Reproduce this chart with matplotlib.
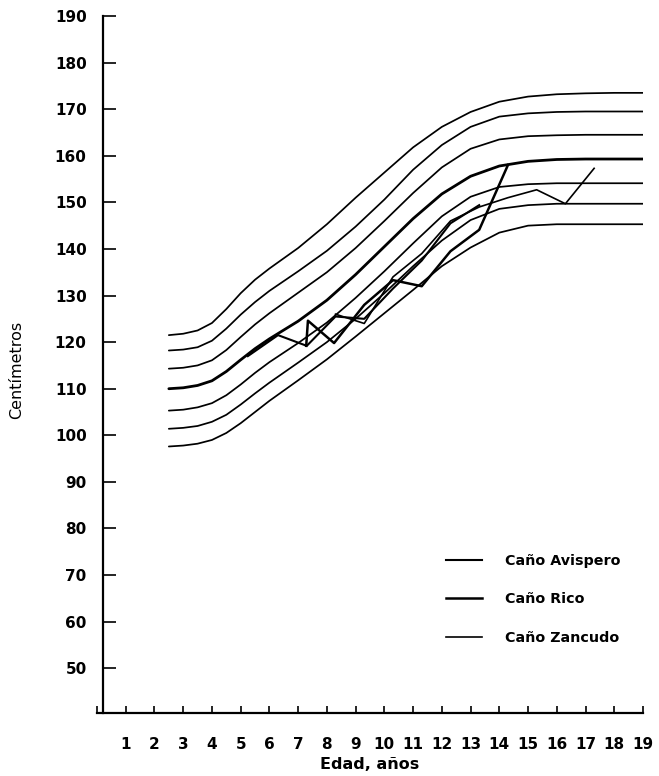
import matplotlib.pyplot as plt

# reference growth curves (cm), sampled by age
ages_ref = [2.5, 3, 3.5, 4, 4.5, 5, 5.5, 6, 7, 8, 9, 10, 11, 12, 13, 14, 15, 16, 17, 18, 19]
p97 = [121.5, 121.8, 122.5, 124.1, 127.1, 130.5, 133.4, 135.8, 140.2, 145.3, 151.0, 156.4,
       161.8, 166.2, 169.4, 171.6, 172.7, 173.2, 173.4, 173.5, 173.5]
p90 = [118.2, 118.4, 118.9, 120.3, 122.9, 125.9, 128.6, 131.0, 135.2, 139.6, 144.8, 150.6,
       157.0, 162.3, 166.2, 168.4, 169.1, 169.4, 169.5, 169.5, 169.5]
p75 = [114.3, 114.5, 115.0, 116.1, 118.3, 121.1, 123.8, 126.2, 130.6, 135.0, 140.2, 146.0,
       152.0, 157.5, 161.5, 163.5, 164.2, 164.4, 164.5, 164.5, 164.5]
p50 = [110.0, 110.2, 110.7, 111.7, 113.7, 116.2, 118.6, 120.7, 124.5, 129.0, 134.5, 140.5,
       146.5, 151.8, 155.6, 157.8, 158.8, 159.2, 159.3, 159.3, 159.3]
p25 = [105.3, 105.5, 106.0, 106.9, 108.6, 110.9, 113.4, 115.7, 119.8, 124.2, 129.5, 135.2,
       141.2, 147.0, 151.2, 153.3, 153.9, 154.1, 154.1, 154.1, 154.1]
p10 = [101.4, 101.6, 102.0, 102.9, 104.4, 106.6, 109.0, 111.3, 115.6, 120.0, 125.0, 130.5,
       136.3, 141.8, 146.2, 148.6, 149.4, 149.7, 149.7, 149.7, 149.7]
p3 = [97.6, 97.8, 98.2, 99.0, 100.5, 102.6, 105.0, 107.4, 111.8, 116.3, 121.2, 126.2,
      131.2, 136.3, 140.3, 143.5, 145.0, 145.3, 145.3, 145.3, 145.3]

# mean height by age for each community
age_avispero = [5.25, 6.3, 7.3, 8.3, 9.3, 10.3, 11.3, 12.3, 13.3]
cm_avispero = [117.0, 121.5, 119.2, 125.5, 125.0, 131.5, 137.5, 145.5, 149.4]
age_rico = [7.28, 7.34, 8.25, 9.3, 10.3, 11.3, 12.3, 13.3, 14.3]
cm_rico = [119.2, 124.6, 119.8, 128.0, 133.3, 132.0, 139.5, 144.1, 158.0]
age_zancudo = [8.3, 9.3, 10.3, 11.3, 12.3, 13.3, 14.3, 15.3, 16.3, 17.3]
cm_zancudo = [126.0, 124.0, 134.0, 139.0, 146.0, 149.0, 151.0, 152.7, 149.7, 157.3]

x_ticks = list(range(0, 20))
y_ticks = list(range(50, 200, 10))

plt.rcParams['font.family'] = ['DejaVu Sans']

fig = plt.figure(figsize=(6.59, 7.76), dpi=100)
ax = fig.add_axes([0.1472, 0.0812, 0.8285, 0.8982])

for curve in (p97, p90, p75, p25, p10, p3):
    ax.plot(ages_ref, curve, color='black', lw=1.25, solid_capstyle='round',
            solid_joinstyle='round')
ax.plot(ages_ref, p50, color='black', lw=2.0, solid_capstyle='round',
        solid_joinstyle='round')

ax.plot(age_avispero, cm_avispero, color='black', lw=1.5, label='Caño Avispero')
ax.plot(age_rico, cm_rico, color='black', lw=1.8, label='Caño Rico')
ax.plot(age_zancudo, cm_zancudo, color='black', lw=1.2, label='Caño Zancudo')

ax.set_xlim(0, 19)
ax.set_ylim(40.4, 190)

for side in ('top', 'right'):
    ax.spines[side].set_visible(False)
ax.spines['left'].set_position(('data', 0.22))
ax.spines['left'].set_bounds(40.4, 190)
ax.spines['left'].set_linewidth(1.6)
ax.spines['bottom'].set_linewidth(1.6)

ax.set_xticks(x_ticks)
ax.set_xticklabels([''] + [str(v) for v in x_ticks[1:]], fontsize=11, fontweight='bold')
ax.set_yticks(y_ticks)
ax.set_yticklabels([str(v) for v in y_ticks], fontsize=11, fontweight='bold')
ax.tick_params(axis='x', direction='in', length=5, width=1.2, pad=17)
ax.tick_params(axis='y', direction='in', length=9, width=1.2, pad=12)

ax.set_xlabel('Edad, años', fontsize=11.5, fontweight='bold', labelpad=4)
ax.set_ylabel('Centímetros', fontsize=11.5)
ax.yaxis.set_label_coords(-0.134, 0.492)

leg = ax.legend(loc='upper left', bbox_to_anchor=(0.616, 0.247), frameon=False,
                handlelength=2.5, handletextpad=1.6, labelspacing=1.72,
                prop={'size': 10.3, 'weight': 'bold'})

fig.savefig('out.png', dpi=100)
